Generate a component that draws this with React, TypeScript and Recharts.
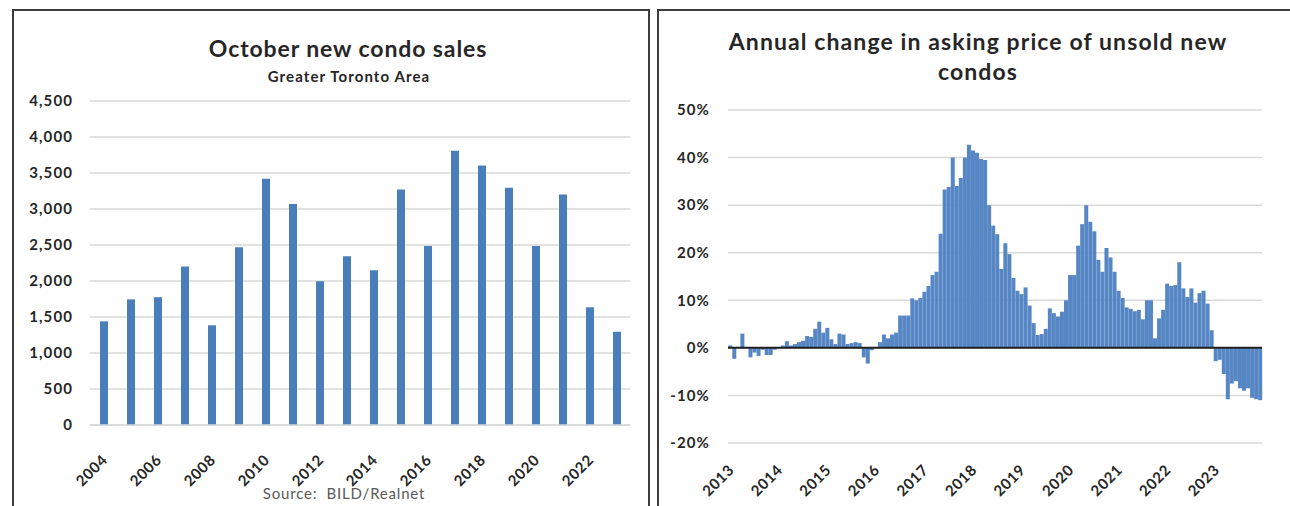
import React from "react";
import {
  Bar,
  BarChart,
  CartesianGrid,
  ReferenceLine,
  XAxis,
  YAxis,
} from "recharts";

// October new condo sales, GTA (source: BILD/Realnet)
const saleYears = [
  "2004", "2005", "2006", "2007", "2008", "2009", "2010", "2011", "2012", "2013",
  "2014", "2015", "2016", "2017", "2018", "2019", "2020", "2021", "2022", "2023",
];
const octoberSales = [
  1440, 1745, 1775, 2200, 1385, 2470, 3420, 3070, 1995, 2345,
  2150, 3270, 2485, 3810, 3605, 3295, 2485, 3200, 1635, 1295,
];
const salesTicks = [0, 500, 1000, 1500, 2000, 2500, 3000, 3500, 4000, 4500];

// Annual % change in asking price of unsold new condos, monthly
const priceYears = ["2013", "2014", "2015", "2016", "2017", "2018", "2019", "2020", "2021", "2022", "2023"];
const monthNames = ["01", "02", "03", "04", "05", "06", "07", "08", "09", "10", "11", "12"];
const change2013 = [0.5, -2.3, 0.2, 3.0, 0.2, -2.0, -1.0, -1.7, -0.4, -1.5, -1.5, -0.4];
const change2014 = [0.1, 0.5, 1.4, 0.5, 0.8, 1.2, 1.5, 2.5, 2.3, 4.0, 5.5, 3.2];
const change2015 = [4.2, 1.8, 0.8, 3.0, 2.8, 0.8, 1.0, 1.2, 1.0, -2.0, -3.3, -0.5];
const change2016 = [0.2, 1.2, 2.8, 2.0, 2.8, 3.2, 6.8, 6.8, 6.8, 10.4, 10.0, 10.5];
const change2017 = [11.8, 13.0, 15.3, 16.0, 24.0, 33.3, 33.8, 40.0, 34.0, 35.7, 40.0, 42.7];
const change2018 = [41.5, 41.0, 39.7, 39.5, 30.0, 25.7, 23.9, 16.6, 22.0, 19.7, 14.7, 12.0];
const change2019 = [11.3, 12.7, 8.9, 5.2, 2.7, 2.9, 4.0, 8.3, 7.3, 6.6, 7.6, 10.0];
const change2020 = [15.3, 15.3, 21.5, 26.0, 30.0, 26.5, 24.5, 18.5, 16.0, 21.0, 19.0, 16.0];
const change2021 = [12.0, 10.5, 8.5, 8.2, 7.7, 8.0, 6.0, 10.0, 10.0, 2.0, 6.2, 8.0];
const change2022 = [13.5, 13.0, 13.2, 18.0, 12.5, 10.7, 12.5, 9.5, 11.5, 12.0, 9.3, 3.7];
const change2023 = [-2.8, -2.5, -5.5, -10.8, -7.5, -7.0, -8.5, -9.0, -8.5, -10.5, -10.8, -11.0];
const priceTicks = [-20, -10, 0, 10, 20, 30, 40, 50];

const salesData = saleYears.map((year, i) => ({ year, sales: octoberSales[i] }));

const changeByYear = [
  change2013, change2014, change2015, change2016, change2017, change2018,
  change2019, change2020, change2021, change2022, change2023,
];
const priceData = priceYears.flatMap((year, yi) =>
  monthNames.map((m, mi) => ({ month: `${year}-${m}`, change: changeByYear[yi][mi] })),
);

const FONT = "Lato, 'Open Sans', sans-serif";
const INK = "#262626";
const GRID = "#d9d9d9";

// Excel-style slanted category label; the text end sits just right of the tick
function SlantTick(props: any) {
  const { x, y, payload, dx, dy, format } = props;
  const tx = x + dx;
  const ty = y + dy;
  return (
    <text
      x={tx}
      y={ty}
      transform={`rotate(-45 ${tx} ${ty})`}
      textAnchor="end"
      fontFamily={FONT}
      fontWeight={700}
      fontSize={15}
      letterSpacing={0.6}
      fill={INK}
    >
      {format(payload.value)}
    </text>
  );
}

const yTick = {
  fontFamily: FONT,
  fontWeight: 700,
  fontSize: 15,
  fill: INK,
  letterSpacing: 1.1,
};

function SalesChart() {
  return (
    <BarChart
      width={637}
      height={497}
      data={salesData}
      margin={{ top: 92, right: 19, left: 0, bottom: 0 }}
    >
      <CartesianGrid vertical={false} stroke={GRID} strokeWidth={1.5} />
      <XAxis
        dataKey="year"
        height={81}
        interval={1}
        tickLine={false}
        tickSize={0}
        tickMargin={0}
        axisLine={{ stroke: GRID, strokeWidth: 1.5 }}
        tick={(p: any) => <SlantTick {...p} dx={5} dy={36} format={(v: string) => v} />}
      />
      <YAxis
        width={78}
        domain={[0, 4500]}
        ticks={salesTicks}
        axisLine={false}
        tickLine={false}
        tickSize={0}
        tickMargin={17}
        tick={yTick}
        tickFormatter={(v: number) => v.toLocaleString("en-US")}
      />
      <Bar dataKey="sales" fill="#4a7ebb" barSize={8} isAnimationActive={false} />
    </BarChart>
  );
}

function PriceChart() {
  return (
    <BarChart
      width={631}
      height={497}
      data={priceData}
      margin={{ top: 101, right: 28, left: 0, bottom: 0 }}
      barCategoryGap="6%"
    >
      <CartesianGrid vertical={false} stroke={GRID} strokeWidth={1.5} />
      <XAxis
        dataKey="month"
        height={63}
        interval={11}
        tickLine={false}
        tickSize={0}
        tickMargin={0}
        axisLine={false}
        tick={(p: any) => (
          <SlantTick {...p} dx={5} dy={28} format={(v: string) => v.slice(0, 4)} />
        )}
      />
      <YAxis
        width={69}
        domain={[-20, 50]}
        ticks={priceTicks}
        axisLine={false}
        tickLine={false}
        tickSize={0}
        tickMargin={18}
        tick={yTick}
        tickFormatter={(v: number) => `${v}%`}
      />
      <Bar dataKey="change" fill="#5686c4" isAnimationActive={false} />
      <ReferenceLine y={0} stroke="#1f1f1f" strokeWidth={2} />
    </BarChart>
  );
}

const centered = (cx: number, top: number): React.CSSProperties => ({
  position: "absolute",
  left: cx - 300,
  top,
  width: 600,
  textAlign: "center",
});

export default function App() {
  return (
    <div
      style={{
        position: "absolute",
        left: 0,
        top: 0,
        width: 1290,
        height: 506,
        background: "#fff",
        overflow: "hidden",
        fontFamily: FONT,
        color: INK,
      }}
    >
      <div
        style={{
          position: "absolute",
          left: 12,
          top: 9,
          width: 638,
          height: 520,
          boxSizing: "border-box",
          border: "2px solid #3c3c3c",
        }}
      />
      <div
        style={{
          position: "absolute",
          left: 657,
          top: 9,
          width: 660,
          height: 520,
          boxSizing: "border-box",
          border: "2px solid #3c3c3c",
        }}
      />

      <div
        style={{
          ...centered(348, 34),
          fontSize: 23,
          lineHeight: "28px",
          fontWeight: 700,
          letterSpacing: 0.9,
        }}
      >
        October new condo sales
      </div>
      <div
        style={{
          ...centered(349, 67),
          fontSize: 15,
          lineHeight: "18px",
          fontWeight: 700,
          letterSpacing: 1.1,
        }}
      >
        Greater Toronto Area
      </div>
      <div
        style={{
          ...centered(344, 484),
          fontSize: 15,
          lineHeight: "18px",
          color: "#595959",
          letterSpacing: 0.8,
        }}
      >
        Source:&nbsp; BILD/Realnet
      </div>

      <div
        style={{
          ...centered(978, 26),
          fontSize: 23,
          lineHeight: "30px",
          fontWeight: 700,
          letterSpacing: 1.1,
        }}
      >
        Annual change in asking price of unsold new
        <br />
        condos
      </div>

      <div style={{ position: "absolute", left: 12, top: 9 }}>
        <SalesChart />
      </div>
      <div style={{ position: "absolute", left: 659, top: 9 }}>
        <PriceChart />
      </div>
    </div>
  );
}
